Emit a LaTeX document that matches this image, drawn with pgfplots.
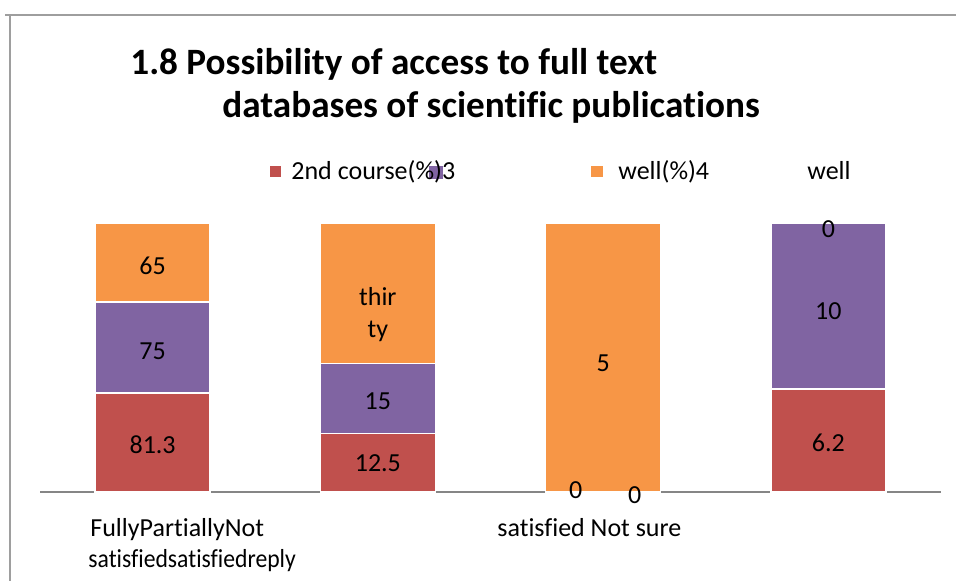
\documentclass[border=0pt]{standalone}
\usepackage{pgfplots}
\pgfplotsset{compat=1.18}
\usepackage{fontspec}
\setmainfont{Carlito}[Ligatures={NoCommon}]
\definecolor{cRed}{HTML}{C0504D}
\definecolor{cPurple}{HTML}{8064A2}
\definecolor{cOrange}{HTML}{F79646}
\definecolor{cAxis}{HTML}{868686}
\tikzset{lbl/.style={font=\fontsize{13pt}{16pt}\selectfont, inner sep=0pt, anchor=center}}
\begin{document}
\begin{tikzpicture}[x=0.5pt,y=-0.5pt]
\path[use as bounding box] (0,0) rectangle (956,581);
\coordinate (A) at (40,492);
% outer frame
\draw[cAxis!80, line width=1pt] (5,15) -- (956,15);
\draw[cAxis!80, line width=1pt] (9.5,15) -- (9.5,581);
% title
\node[anchor=base west, font=\fontsize{18.6pt}{22pt}\selectfont\bfseries, inner sep=0pt] at (130,75) {1.8 Possibility of access to full text};
\node[anchor=base west, font=\fontsize{18.6pt}{22pt}\selectfont\bfseries, inner sep=0pt] at (222,118) {databases of scientific publications};
% legend
\fill[cRed] (270,166) rectangle (281,177);
\fill[cPurple] (429,166) rectangle (443,179);
\node[anchor=base west, font=\fontsize{13pt}{16pt}\selectfont, inner sep=0pt] at (291,180) {2nd course(\%)3};
\fill[cOrange] (591,166) rectangle (603,177);
\node[anchor=base west, font=\fontsize{13pt}{16pt}\selectfont, inner sep=0pt] at (618,180) {well(\%)4};
\node[anchor=base west, font=\fontsize{13pt}{16pt}\selectfont, inner sep=0pt] at (807,180) {well};
% category labels
\node[anchor=base west, font=\fontsize{13pt}{16pt}\selectfont, inner sep=0pt] at (90,536) {FullyPartiallyNot};
\node[anchor=base west, font=\fontsize{13pt}{16pt}\selectfont, inner sep=0pt] at (88,567) {\scalebox{0.91}[1]{satisfiedsatisfiedreply}};
\node[anchor=base west, font=\fontsize{13pt}{16pt}\selectfont, inner sep=0pt] at (497,536) {satisfied Not sure};
\begin{axis}[
  at={(A)}, anchor=south west,
  scale only axis, width=450.5pt, height=134.5pt,
  xmin=-0.5, xmax=3.5, ymin=0, ymax=100,
  axis x line*=bottom, axis y line=none,
  x axis line style={-, draw=cAxis, line width=0.75pt},
  xtick=\empty, ytick=\empty,
  ybar stacked, bar width=0.51,
  clip=false,
  every axis plot/.append style={draw=white, line width=0.75pt},
]
\addplot[fill=cRed] coordinates {(0,36.74) (1,21.74) (2,0) (3,38.27)};
\addplot[fill=cPurple] coordinates {(0,33.89) (1,26.09) (2,0) (3,61.73)};
\addplot[fill=cOrange] coordinates {(0,29.37) (1,52.17) (2,100) (3,0)};
\coordinate (a1) at (axis cs:0,17.5);
\coordinate (a2) at (axis cs:0,52.4);
\coordinate (a3) at (axis cs:0,84.0);
\coordinate (b1) at (axis cs:1,10.8);
\coordinate (b2) at (axis cs:1,33.8);
\coordinate (b3) at (axis cs:1,66);
\coordinate (c3) at (axis cs:2,48);
\coordinate (c1) at (axis cs:1.878,0.7);
\coordinate (c2) at (axis cs:2.14,-1.1);
\coordinate (d1) at (axis cs:3,18.2);
\coordinate (d2) at (axis cs:3,67.3);
\coordinate (d3) at (axis cs:3,97.8);
\end{axis}
\node[lbl] at (a1) {81.3};
\node[lbl] at (a2) {75};
\node[lbl] at (a3) {65};
\node[lbl] at (b1) {12.5};
\node[lbl] at (b2) {15};
\node[lbl, align=center] at (b3) {thir\\ty};
\node[lbl] at (c3) {5};
\node[lbl] at (c1) {0};
\node[lbl] at (c2) {0};
\node[lbl] at (d1) {6.2};
\node[lbl] at (d2) {10};
\node[lbl] at (d3) {0};
\end{tikzpicture}
\end{document}
